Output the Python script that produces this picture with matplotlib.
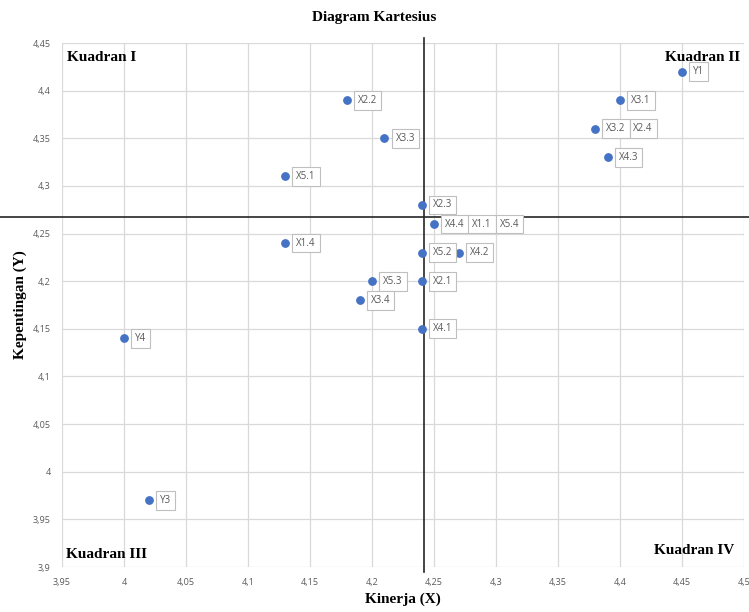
import matplotlib.pyplot as plt

# data
kinerja = [4.45, 4.40, 4.38, 4.39, 4.18, 4.21, 4.13, 4.24, 4.25, 4.13,
           4.24, 4.27, 4.20, 4.24, 4.19, 4.24, 4.00, 4.02]
kepentingan = [4.42, 4.39, 4.36, 4.33, 4.39, 4.35, 4.31, 4.28, 4.26, 4.24,
               4.23, 4.23, 4.20, 4.20, 4.18, 4.15, 4.14, 3.97]
labels = [["Y1"], ["X3.1"], ["X3.2", "X2.4"], ["X4.3"], ["X2.2"], ["X3.3"],
          ["X5.1"], ["X2.3"], ["X4.4", "X1.1", "X5.4"], ["X1.4"], ["X5.2"],
          ["X4.2"], ["X5.3"], ["X2.1"], ["X3.4"], ["X4.1"], ["Y4"], ["Y3"]]
mean_x = 4.242
mean_y = 4.267
xticks = [3.95, 4.0, 4.05, 4.1, 4.15, 4.2, 4.25, 4.3, 4.35, 4.4, 4.45, 4.5]
yticks = [3.9, 3.95, 4.0, 4.05, 4.1, 4.15, 4.2, 4.25, 4.3, 4.35, 4.4, 4.45]

serif = "Liberation Serif"
tick_grey = "#595959"
lab_size = 7
lab_pad = 0.4

fig = plt.figure(figsize=(7.49, 6.12), dpi=100)
ax = fig.add_axes([62/749, 1-567/612, 682/749, 524/612])

ax.scatter(kinerja, kepentingan, s=28, color="#4472C4", zorder=3)

# labels in little boxes, chained side by side when several share a point
box = dict(boxstyle=f"square,pad={lab_pad}", fc="white", ec="#bfbfbf", lw=0.8)
for x, y, labs in zip(kinerja, kepentingan, labels):
    prev = ax.annotate(labs[0], (x, y), xytext=(8, 0), textcoords="offset points",
                       ha="left", va="center", fontsize=lab_size, color=tick_grey,
                       bbox=box, zorder=4, fontfamily="Open Sans")
    for lab in labs[1:]:
        prev = ax.annotate(lab, (1, 0.5), xycoords=prev,
                           xytext=(2 * lab_pad * lab_size, 0),
                           textcoords="offset points", ha="left", va="center",
                           fontsize=lab_size, color=tick_grey, bbox=box, zorder=4,
                           fontfamily="Open Sans")

ax.set_xlim(3.95, 4.5)
ax.set_ylim(3.9, 4.45)
ax.set_xticks(xticks)
ax.set_yticks(yticks)
ax.set_xticklabels([f"{v:g}".replace(".", ",") for v in xticks])
ax.set_yticklabels([f"{v:g}".replace(".", ",") for v in yticks])
ax.tick_params(length=0, labelsize=6.5, labelcolor=tick_grey, pad=8)
for lab in ax.get_xticklabels() + ax.get_yticklabels():
    lab.set_fontfamily("Open Sans")
ax.grid(True, color="#d9d9d9", lw=0.9)
ax.set_axisbelow(True)
for s in ax.spines.values():
    s.set_visible(False)

# quadrant split lines (run past the plot area like in the original)
ax.axvline(mean_x, ymin=-0.01, ymax=1.01, color="#262626", lw=1.2, clip_on=False, zorder=2)
ax.axhline(mean_y, xmin=-62/682, xmax=687/682, color="#262626", lw=1.2, clip_on=False, zorder=2)

qfont = dict(fontfamily=serif, fontweight="bold", fontsize=11)
ax.text(0.008, 0.985, "Kuadran I", transform=ax.transAxes, ha="left", va="top", **qfont)
ax.text(0.995, 0.985, "Kuadran II", transform=ax.transAxes, ha="right", va="top", **qfont)
ax.text(0.006, 0.012, "Kuadran III", transform=ax.transAxes, ha="left", va="bottom", **qfont)
ax.text(0.985, 0.02, "Kuadran IV", transform=ax.transAxes, ha="right", va="bottom", **qfont)

fig.text(0.5, 1-17/612, "Diagram Kartesius", ha="center", va="center",
         fontfamily=serif, fontweight="bold", fontsize=11)
ax.set_xlabel("Kinerja (X)", fontfamily=serif, fontweight="bold", fontsize=11, labelpad=4)
ax.set_ylabel("Kepentingan (Y)", fontfamily=serif, fontweight="bold", fontsize=11, labelpad=4)

fig.savefig("out.png", dpi=100)
